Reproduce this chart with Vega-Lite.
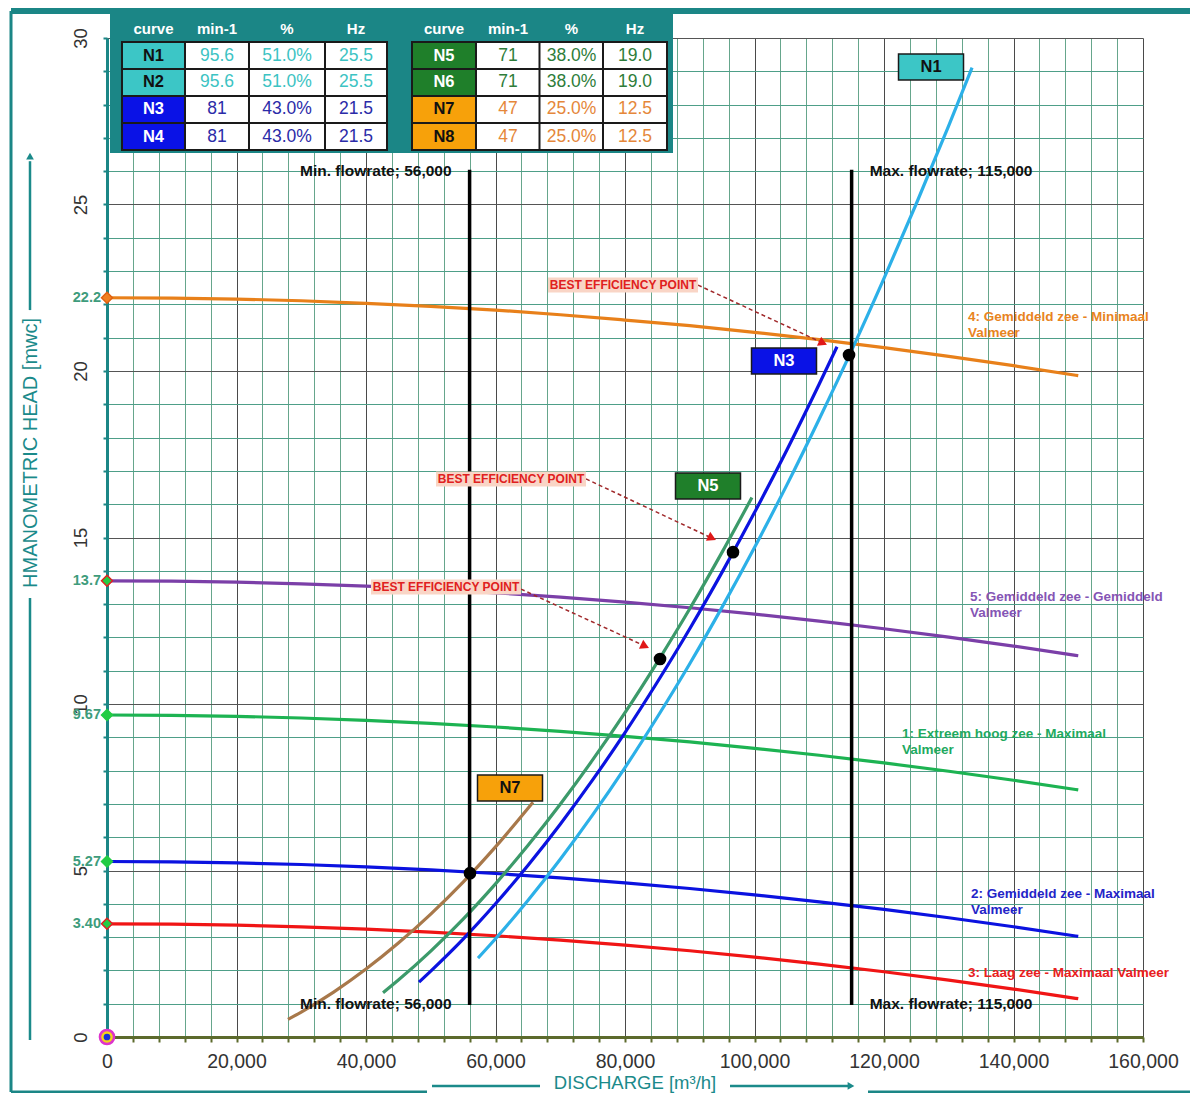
{
 "$schema": "https://vega.github.io/schema/vega-lite/v6.json",
 "width": 1036, "height": 999,
 "autosize": {"type": "none"},
 "padding": {"left": 107, "top": 38, "right": 47, "bottom": 56},
 "background": "#ffffff",
 "config": {"view": {"stroke": null}, "text": {"font": "Liberation Sans"}},
 "datasets": {
  "curves": [
   {"c":"S4","q":0,"h":22.2},{"c":"S4","q":10000,"h":22.19},{"c":"S4","q":20000,"h":22.16},{"c":"S4","q":30000,"h":22.11},{"c":"S4","q":40000,"h":22.03},{"c":"S4","q":50000,"h":21.94},{"c":"S4","q":60000,"h":21.83},{"c":"S4","q":70000,"h":21.69},{"c":"S4","q":80000,"h":21.53},{"c":"S4","q":90000,"h":21.36},{"c":"S4","q":100000,"h":21.16},{"c":"S4","q":110000,"h":20.94},{"c":"S4","q":120000,"h":20.70},{"c":"S4","q":130000,"h":20.44},{"c":"S4","q":140000,"h":20.16},{"c":"S4","q":150000,"h":19.86},
   {"c":"S5","q":0,"h":13.7},{"c":"S5","q":10000,"h":13.69},{"c":"S5","q":20000,"h":13.66},{"c":"S5","q":30000,"h":13.61},{"c":"S5","q":40000,"h":13.54},{"c":"S5","q":50000,"h":13.45},{"c":"S5","q":60000,"h":13.34},{"c":"S5","q":70000,"h":13.21},{"c":"S5","q":80000,"h":13.06},{"c":"S5","q":90000,"h":12.89},{"c":"S5","q":100000,"h":12.70},{"c":"S5","q":110000,"h":12.49},{"c":"S5","q":120000,"h":12.26},{"c":"S5","q":130000,"h":12.01},{"c":"S5","q":140000,"h":11.74},{"c":"S5","q":150000,"h":11.45},
   {"c":"S1","q":0,"h":9.67},{"c":"S1","q":10000,"h":9.66},{"c":"S1","q":20000,"h":9.63},{"c":"S1","q":30000,"h":9.58},{"c":"S1","q":40000,"h":9.51},{"c":"S1","q":50000,"h":9.42},{"c":"S1","q":60000,"h":9.31},{"c":"S1","q":70000,"h":9.18},{"c":"S1","q":80000,"h":9.03},{"c":"S1","q":90000,"h":8.86},{"c":"S1","q":100000,"h":8.67},{"c":"S1","q":110000,"h":8.46},{"c":"S1","q":120000,"h":8.23},{"c":"S1","q":130000,"h":7.98},{"c":"S1","q":140000,"h":7.71},{"c":"S1","q":150000,"h":7.42},
   {"c":"S2","q":0,"h":5.27},{"c":"S2","q":10000,"h":5.26},{"c":"S2","q":20000,"h":5.23},{"c":"S2","q":30000,"h":5.18},{"c":"S2","q":40000,"h":5.11},{"c":"S2","q":50000,"h":5.02},{"c":"S2","q":60000,"h":4.91},{"c":"S2","q":70000,"h":4.78},{"c":"S2","q":80000,"h":4.63},{"c":"S2","q":90000,"h":4.46},{"c":"S2","q":100000,"h":4.27},{"c":"S2","q":110000,"h":4.06},{"c":"S2","q":120000,"h":3.83},{"c":"S2","q":130000,"h":3.58},{"c":"S2","q":140000,"h":3.31},{"c":"S2","q":150000,"h":3.02},
   {"c":"S3","q":0,"h":3.40},{"c":"S3","q":10000,"h":3.39},{"c":"S3","q":20000,"h":3.36},{"c":"S3","q":30000,"h":3.31},{"c":"S3","q":40000,"h":3.24},{"c":"S3","q":50000,"h":3.15},{"c":"S3","q":60000,"h":3.04},{"c":"S3","q":70000,"h":2.91},{"c":"S3","q":80000,"h":2.76},{"c":"S3","q":90000,"h":2.59},{"c":"S3","q":100000,"h":2.40},{"c":"S3","q":110000,"h":2.19},{"c":"S3","q":120000,"h":1.96},{"c":"S3","q":130000,"h":1.71},{"c":"S3","q":140000,"h":1.44},{"c":"S3","q":150000,"h":1.15},
   {"c":"N1","q":57300,"h":2.37},{"c":"N1","q":60000,"h":2.95},{"c":"N1","q":65000,"h":4.10},{"c":"N1","q":70000,"h":5.34},{"c":"N1","q":75000,"h":6.67},{"c":"N1","q":80000,"h":8.09},{"c":"N1","q":85000,"h":9.61},{"c":"N1","q":90000,"h":11.21},{"c":"N1","q":95000,"h":12.91},{"c":"N1","q":100000,"h":14.70},{"c":"N1","q":105000,"h":16.58},{"c":"N1","q":110000,"h":18.56},{"c":"N1","q":115000,"h":20.62},{"c":"N1","q":120000,"h":22.78},{"c":"N1","q":125000,"h":25.03},{"c":"N1","q":130000,"h":27.37},{"c":"N1","q":133600,"h":29.11},
   {"c":"N3","q":48190,"h":1.65},{"c":"N3","q":50000,"h":1.98},{"c":"N3","q":55000,"h":2.94},{"c":"N3","q":60000,"h":4.00},{"c":"N3","q":65000,"h":5.15},{"c":"N3","q":70000,"h":6.39},{"c":"N3","q":75000,"h":7.72},{"c":"N3","q":80000,"h":9.14},{"c":"N3","q":85000,"h":10.66},{"c":"N3","q":90000,"h":12.26},{"c":"N3","q":95000,"h":13.96},{"c":"N3","q":100000,"h":15.75},{"c":"N3","q":105000,"h":17.63},{"c":"N3","q":110000,"h":19.61},{"c":"N3","q":112740,"h":20.73},
   {"c":"N5","q":42630,"h":1.33},{"c":"N5","q":45000,"h":1.71},{"c":"N5","q":50000,"h":2.58},{"c":"N5","q":55000,"h":3.54},{"c":"N5","q":60000,"h":4.60},{"c":"N5","q":65000,"h":5.75},{"c":"N5","q":70000,"h":6.99},{"c":"N5","q":75000,"h":8.32},{"c":"N5","q":80000,"h":9.74},{"c":"N5","q":85000,"h":11.26},{"c":"N5","q":90000,"h":12.86},{"c":"N5","q":95000,"h":14.56},{"c":"N5","q":99600,"h":16.20},
   {"c":"N7","q":27950,"h":0.53},{"c":"N7","q":30000,"h":0.75},{"c":"N7","q":35000,"h":1.35},{"c":"N7","q":40000,"h":2.04},{"c":"N7","q":45000,"h":2.82},{"c":"N7","q":50000,"h":3.69},{"c":"N7","q":55000,"h":4.65},{"c":"N7","q":60000,"h":5.71},{"c":"N7","q":65790,"h":7.05}
  ],
  "frame": [
   {"s":"top","q":-14826,"q2":167258,"h":30.81,"h2":30.81},
   {"s":"left","q":-14826,"q2":-14826,"h":30.81,"h2":-1.652},
   {"s":"bot","q":-14826,"q2":49421,"h":-1.652,"h2":-1.652},
   {"s":"bot","q":117529,"q2":167258,"h":-1.652,"h2":-1.652}
  ],
  "tablebg": [{"q":43938,"h":28.634}],
  "headers": [
   {"q":7181,"h":30.27,"txt":"curve"},{"q":16988,"h":30.27,"txt":"min-1"},{"q":27799,"h":30.27,"txt":"%"},{"q":38456,"h":30.27,"txt":"Hz"},
   {"q":52046,"h":30.27,"txt":"curve"},{"q":61930,"h":30.27,"txt":"min-1"},{"q":71737,"h":30.27,"txt":"%"},{"q":81544,"h":30.27,"txt":"Hz"}
  ],
  "cells": [
   {"t":1,"col":"curve","q":7181,"h":29.474,"txt":"N1","grp":"N12"},{"t":1,"col":"min-1","q":16988,"h":29.474,"txt":"95.6","grp":"N12"},{"t":1,"col":"%","q":27799,"h":29.474,"txt":"51.0%","grp":"N12"},{"t":1,"col":"Hz","q":38456,"h":29.474,"txt":"25.5","grp":"N12"},
   {"t":1,"col":"curve","q":7181,"h":28.664,"txt":"N2","grp":"N12"},{"t":1,"col":"min-1","q":16988,"h":28.664,"txt":"95.6","grp":"N12"},{"t":1,"col":"%","q":27799,"h":28.664,"txt":"51.0%","grp":"N12"},{"t":1,"col":"Hz","q":38456,"h":28.664,"txt":"25.5","grp":"N12"},
   {"t":1,"col":"curve","q":7181,"h":27.853,"txt":"N3","grp":"N34"},{"t":1,"col":"min-1","q":16988,"h":27.853,"txt":"81","grp":"N34"},{"t":1,"col":"%","q":27799,"h":27.853,"txt":"43.0%","grp":"N34"},{"t":1,"col":"Hz","q":38456,"h":27.853,"txt":"21.5","grp":"N34"},
   {"t":1,"col":"curve","q":7181,"h":27.042,"txt":"N4","grp":"N34"},{"t":1,"col":"min-1","q":16988,"h":27.042,"txt":"81","grp":"N34"},{"t":1,"col":"%","q":27799,"h":27.042,"txt":"43.0%","grp":"N34"},{"t":1,"col":"Hz","q":38456,"h":27.042,"txt":"21.5","grp":"N34"},
   {"t":2,"col":"curve","q":52046,"h":29.474,"txt":"N5","grp":"N56"},{"t":2,"col":"min-1","q":61930,"h":29.474,"txt":"71","grp":"N56"},{"t":2,"col":"%","q":71737,"h":29.474,"txt":"38.0%","grp":"N56"},{"t":2,"col":"Hz","q":81544,"h":29.474,"txt":"19.0","grp":"N56"},
   {"t":2,"col":"curve","q":52046,"h":28.664,"txt":"N6","grp":"N56"},{"t":2,"col":"min-1","q":61930,"h":28.664,"txt":"71","grp":"N56"},{"t":2,"col":"%","q":71737,"h":28.664,"txt":"38.0%","grp":"N56"},{"t":2,"col":"Hz","q":81544,"h":28.664,"txt":"19.0","grp":"N56"},
   {"t":2,"col":"curve","q":52046,"h":27.853,"txt":"N7","grp":"N78"},{"t":2,"col":"min-1","q":61930,"h":27.853,"txt":"47","grp":"N78"},{"t":2,"col":"%","q":71737,"h":27.853,"txt":"25.0%","grp":"N78"},{"t":2,"col":"Hz","q":81544,"h":27.853,"txt":"12.5","grp":"N78"},
   {"t":2,"col":"curve","q":52046,"h":27.042,"txt":"N8","grp":"N78"},{"t":2,"col":"min-1","q":61930,"h":27.042,"txt":"47","grp":"N78"},{"t":2,"col":"%","q":71737,"h":27.042,"txt":"25.0%","grp":"N78"},{"t":2,"col":"Hz","q":81544,"h":27.042,"txt":"12.5","grp":"N78"}
  ],
  "vlines": [{"q":56000,"h":0.96,"h2":26.04},{"q":115000,"h":0.96,"h2":26.04}],
  "flowlabels": [
   {"q":56000,"h":26.0,"txt":"Min. flowrate; 56,000"},{"q":56000,"h":1.0,"txt":"Min. flowrate; 56,000"},
   {"q":115000,"h":26.0,"txt":"Max. flowrate; 115,000"},{"q":115000,"h":1.0,"txt":"Max. flowrate; 115,000"}
  ],
  "dots": [{"q":56060,"h":4.92},{"q":114600,"h":20.48},{"q":96680,"h":14.56},{"q":85410,"h":11.35}],
  "beplines": [
   {"q":91274,"h":22.58,"q2":110580,"h2":20.84},
   {"q":73977,"h":16.76,"q2":93436,"h2":14.98},
   {"q":63938,"h":13.45,"q2":83089,"h2":11.74}
  ],
  "bepheads": [{"q":110580,"h":20.84},{"q":93436,"h":14.98},{"q":83089,"h":11.74}],
  "beplabels": [{"q":79691,"h":22.58,"txt":"BEST EFFICIENCY POINT"},{"q":62394,"h":16.76,"txt":"BEST EFFICIENCY POINT"},{"q":52355,"h":13.51,"txt":"BEST EFFICIENCY POINT"}],
  "nboxes": [
   {"q":127260,"h":29.13,"txt":"N1","grp":"N12"},
   {"q":104556,"h":20.30,"txt":"N3","grp":"N34"},
   {"q":92818,"h":16.55,"txt":"N5","grp":"N56"},
   {"q":62240,"h":7.48,"txt":"N7","grp":"N78"}
  ],
  "syslabels": [
   {"q":132973,"h":21.83,"grp":"S4","txt":["4: Gemiddeld zee - Minimaal","Valmeer"]},
   {"q":133282,"h":13.42,"grp":"S5","txt":["5: Gemiddeld zee - Gemiddeld","Valmeer"]},
   {"q":122780,"h":9.31,"grp":"S1","txt":["1: Extreem hoog zee - Maximaal","Valmeer"]},
   {"q":133436,"h":4.50,"grp":"S2","txt":["2: Gemiddeld zee - Maximaal","Valmeer"]},
   {"q":132973,"h":2.13,"grp":"S3","txt":["3: Laag zee - Maximaal Valmeer"]}
  ],
  "ylabels": [
   {"q":0,"h":22.2,"txt":"22.2"},{"q":0,"h":13.7,"txt":"13.7"},{"q":0,"h":9.67,"txt":"9.67"},{"q":0,"h":5.27,"txt":"5.27"},{"q":0,"h":3.40,"txt":"3.40"}
  ],
  "origin": [{"q":0,"h":0}],
  "titles": [
   {"ax":"y","q":-11737,"h":17.54,"txt":"HMANOMETRIC HEAD [mwc]"},
   {"ax":"x","q":81544,"h":-1.38,"txt":"DISCHARGE [m³/h]"}
  ],
  "titlelines": [
   {"q":-11892,"q2":-11892,"h":-0.09,"h2":13.18},
   {"q":-11892,"q2":-11892,"h":21.83,"h2":26.3},
   {"q":50193,"q2":66872,"h":-1.47,"h2":-1.47},
   {"q":96216,"q2":114500,"h":-1.47,"h2":-1.47}
  ],
  "titleheads": [{"ax":"y","q":-11892,"h":26.45},{"ax":"x","q":114900,"h":-1.47}]
 },
 "encoding": {
  "x": {"field": "q", "type": "quantitative",
   "scale": {"domain": [0, 160000], "nice": false, "zero": false},
   "axis": {
    "title": null,
    "values": [0,4000,8000,12000,16000,20000,24000,28000,32000,36000,40000,44000,48000,52000,56000,60000,64000,68000,72000,76000,80000,84000,88000,92000,96000,100000,104000,108000,112000,116000,120000,124000,128000,132000,136000,140000,144000,148000,152000,156000,160000],
    "labelExpr": "datum.value % 20000 === 0 ? format(datum.value, ',') : ''",
    "grid": true,
    "gridColor": {"condition": {"test": "datum.value % 20000 === 0", "value": "#4a4a4a"}, "value": "#66a68c"},
    "gridWidth": 1,
    "domainColor": "#5c6a2c", "domainWidth": 3,
    "tickColor": "#5c6a2c", "tickWidth": 2, "tickSize": 5,
    "labelFont": "Liberation Sans", "labelFontSize": 19.5, "labelColor": "#333333", "labelPadding": 10,
    "labelOverlap": false, "labelFlush": false
   }
  },
  "y": {"field": "h", "type": "quantitative",
   "scale": {"domain": [0, 30], "nice": false, "zero": false},
   "axis": {
    "title": null,
    "values": [0,1,2,3,4,5,6,7,8,9,10,11,12,13,14,15,16,17,18,19,20,21,22,23,24,25,26,27,28,29,30],
    "labelExpr": "datum.value % 5 === 0 ? datum.label : ''",
    "grid": true,
    "gridColor": {"condition": {"test": "datum.value % 5 === 0", "value": "#555555"}, "value": "#4e9f88"},
    "gridWidth": 1,
    "domainColor": "#1b8686", "domainWidth": 3,
    "tickColor": "#1b8686", "tickWidth": 2, "tickSize": 4,
    "labelAngle": -90, "labelAlign": "center", "labelBaseline": "bottom",
    "labelFont": "Liberation Sans", "labelFontSize": 18.5, "labelColor": "#333333", "labelPadding": 13,
    "labelOverlap": false, "labelFlush": false
   }
  }
 },
 "layer": [
  {"data": {"name": "frame"}, "transform": [{"filter": "datum.s === 'top'"}],
   "mark": {"type": "rule", "color": "#1b8686", "strokeWidth": 6},
   "encoding": {"x2": {"field": "q2"}, "y2": {"field": "h2"}}},
  {"data": {"name": "frame"}, "transform": [{"filter": "datum.s !== 'top'"}],
   "mark": {"type": "rule", "color": "#1b8686", "strokeWidth": 3},
   "encoding": {"x2": {"field": "q2"}, "y2": {"field": "h2"}}},
  {"data": {"name": "curves"},
   "mark": {"type": "line", "strokeWidth": 3.2, "interpolate": "monotone"},
   "encoding": {"stroke": {"field": "c", "type": "nominal", "legend": null,
     "scale": {"domain": ["S4","S5","S1","S2","S3","N1","N3","N5","N7"],
               "range": ["#e8801a","#7b3fa8","#1db352","#0b12e0","#f01515","#2cb0e8","#0b12e0","#3c9a6a","#a8784a"]}}}},
  {"data": {"name": "vlines"},
   "mark": {"type": "rule", "color": "#000000", "strokeWidth": 3.5},
   "encoding": {"y2": {"field": "h2"}}},
  {"data": {"name": "beplines"},
   "mark": {"type": "rule", "color": "#a0282a", "strokeWidth": 1.5, "strokeDash": [4, 3]},
   "encoding": {"x2": {"field": "q2"}, "y2": {"field": "h2"}}},
  {"data": {"name": "bepheads"},
   "mark": {"type": "point", "shape": "triangle-up", "filled": true, "opacity": 1, "color": "#e01818", "size": 100, "angle": 115},
   "encoding": {}},
  {"data": {"name": "dots"},
   "mark": {"type": "point", "shape": "circle", "filled": true, "opacity": 1, "color": "#000000", "size": 160},
   "encoding": {}},
  {"data": {"name": "nboxes"},
   "mark": {"type": "point", "shape": "M-1,-0.4H1V0.4H-1Z", "size": 4225, "filled": true, "opacity": 1, "stroke": "#1a1a1a", "strokeWidth": 1.5},
   "encoding": {"fill": {"field": "grp", "type": "nominal", "legend": null,
     "scale": {"domain": ["N12","N34","N56","N78"], "range": ["#3cc6c6","#0a12e6","#1f7f2a","#f7a10a"]}}}},
  {"data": {"name": "nboxes"},
   "mark": {"type": "text", "fontSize": 16.5, "fontWeight": "bold", "baseline": "middle", "align": "center"},
   "encoding": {"text": {"field": "txt"},
     "color": {"condition": {"test": "datum.grp === 'N34' || datum.grp === 'N56'", "value": "#ffffff"}, "value": "#111111"}}},
  {"data": {"name": "beplabels"},
   "mark": {"type": "point", "shape": "M-1,-0.1H1V0.1H-1Z", "size": 22500, "filled": true, "opacity": 1, "color": "#f9d5c6"},
   "encoding": {}},
  {"data": {"name": "beplabels"},
   "mark": {"type": "text", "fontSize": 12, "fontWeight": "bold", "color": "#e02020", "baseline": "middle", "align": "center"},
   "encoding": {"text": {"field": "txt"}}},
  {"data": {"name": "flowlabels"}, "transform": [{"filter": "datum.q < 100000"}],
   "mark": {"type": "text", "fontSize": 15.5, "fontWeight": "bold", "color": "#111111", "baseline": "middle", "align": "right", "dx": -18},
   "encoding": {"text": {"field": "txt"}}},
  {"data": {"name": "flowlabels"}, "transform": [{"filter": "datum.q > 100000"}],
   "mark": {"type": "text", "fontSize": 15.5, "fontWeight": "bold", "color": "#111111", "baseline": "middle", "align": "left", "dx": 18},
   "encoding": {"text": {"field": "txt"}}},
  {"data": {"name": "syslabels"},
   "mark": {"type": "text", "fontSize": 13.5, "fontWeight": "bold", "baseline": "top", "align": "left", "lineHeight": 16},
   "encoding": {"text": {"field": "txt"},
     "color": {"field": "grp", "type": "nominal", "legend": null,
       "scale": {"domain": ["N12","N34","N56","N78","S1","S2","S3","S4","S5"],
                 "range": ["#3cc3c3","#2b2ba8","#2e7d3a","#e5873a","#1faa5f","#2424c8","#e82020","#e8841e","#8555b5"]}}}},
  {"data": {"name": "ylabels"},
   "mark": {"type": "text", "fontSize": 14.5, "fontWeight": "bold", "color": "#3e9c7c", "baseline": "middle", "align": "right", "dx": -6},
   "encoding": {"text": {"field": "txt"}}},
  {"data": {"name": "ylabels"},
   "mark": {"type": "point", "shape": "diamond", "filled": true, "opacity": 1, "size": 120, "strokeWidth": 1.5},
   "encoding": {
     "fill": {"condition": {"test": "datum.h === 22.2", "value": "#f08020"}, "value": "#22cc44"},
     "stroke": {"condition": [{"test": "datum.h === 3.4 || datum.h === 13.7", "value": "#e02020"}, {"test": "datum.h === 22.2", "value": "#e06010"}], "value": "#22cc44"}}},
  {"data": {"name": "origin"},
   "mark": {"type": "point", "shape": "circle", "filled": true, "opacity": 1, "size": 200, "fill": "#f2d418", "stroke": "#dd33cc", "strokeWidth": 2.5},
   "encoding": {}},
  {"data": {"name": "origin"},
   "mark": {"type": "point", "shape": "circle", "filled": true, "opacity": 1, "size": 45, "color": "#1530d8"},
   "encoding": {}},
  {"data": {"name": "titles"}, "transform": [{"filter": "datum.ax === 'y'"}],
   "mark": {"type": "text", "fontSize": 20, "color": "#1b8a8a", "angle": 270, "baseline": "middle", "align": "center"},
   "encoding": {"text": {"field": "txt"}}},
  {"data": {"name": "titles"}, "transform": [{"filter": "datum.ax === 'x'"}],
   "mark": {"type": "text", "fontSize": 18.5, "color": "#1b8a8a", "baseline": "middle", "align": "center"},
   "encoding": {"text": {"field": "txt"}}},
  {"data": {"name": "titlelines"},
   "mark": {"type": "rule", "color": "#1b8a8a", "strokeWidth": 2.5},
   "encoding": {"x2": {"field": "q2"}, "y2": {"field": "h2"}}},
  {"data": {"name": "titleheads"}, "transform": [{"filter": "datum.ax === 'y'"}],
   "mark": {"type": "point", "shape": "triangle-up", "filled": true, "opacity": 1, "size": 60, "color": "#1b8a8a"},
   "encoding": {}},
  {"data": {"name": "titleheads"}, "transform": [{"filter": "datum.ax === 'x'"}],
   "mark": {"type": "point", "shape": "triangle-right", "filled": true, "opacity": 1, "size": 60, "color": "#1b8a8a"},
   "encoding": {}},
  {"data": {"name": "tablebg"},
   "mark": {"type": "point", "shape": "M-1,-0.2469H1V0.2469H-1Z", "size": 316969, "filled": true, "opacity": 1, "color": "#1b8686"},
   "encoding": {}},
  {"data": {"name": "cells"}, "transform": [{"filter": "datum.t === 1"}],
   "mark": {"type": "point", "size": 4096, "filled": true, "opacity": 1, "stroke": "#1a1a1a", "strokeWidth": 2},
   "encoding": {
     "shape": {"field": "col", "type": "nominal", "legend": null,
       "scale": {"domain": ["curve","min-1","%","Hz"],
                 "range": ["M-0.9844,-0.4219H0.9844V0.4219H-0.9844Z","M-1,-0.4219H1V0.4219H-1Z","M-1.1875,-0.4219H1.1875V0.4219H-1.1875Z","M-0.9688,-0.4219H0.9688V0.4219H-0.9688Z"]}},
     "fill": {"field": "grp", "type": "nominal", "legend": null, "condition": {"test": "datum.col !== 'curve'", "value": "#ffffff"}}}},
  {"data": {"name": "cells"}, "transform": [{"filter": "datum.t === 2"}],
   "mark": {"type": "point", "shape": "M-1,-0.4219H1V0.4219H-1Z", "size": 4096, "filled": true, "opacity": 1, "stroke": "#1a1a1a", "strokeWidth": 2},
   "encoding": {
     "fill": {"field": "grp", "type": "nominal", "legend": null, "condition": {"test": "datum.col !== 'curve'", "value": "#ffffff"}}}},
  {"data": {"name": "cells"}, "transform": [{"filter": "datum.col === 'curve'"}],
   "mark": {"type": "text", "fontSize": 16.5, "fontWeight": "bold", "baseline": "middle", "align": "center"},
   "encoding": {"text": {"field": "txt"},
     "color": {"condition": {"test": "datum.grp === 'N34' || datum.grp === 'N56'", "value": "#ffffff"}, "value": "#111111"}}},
  {"data": {"name": "cells"}, "transform": [{"filter": "datum.col !== 'curve'"}],
   "mark": {"type": "text", "fontSize": 17.5, "baseline": "middle", "align": "center"},
   "encoding": {"text": {"field": "txt"},
     "color": {"field": "grp", "type": "nominal", "legend": null}}},
  {"data": {"name": "headers"},
   "mark": {"type": "text", "fontSize": 15, "fontWeight": "bold", "color": "#ffffff", "baseline": "middle", "align": "center"},
   "encoding": {"text": {"field": "txt"}}}
 ]
}
